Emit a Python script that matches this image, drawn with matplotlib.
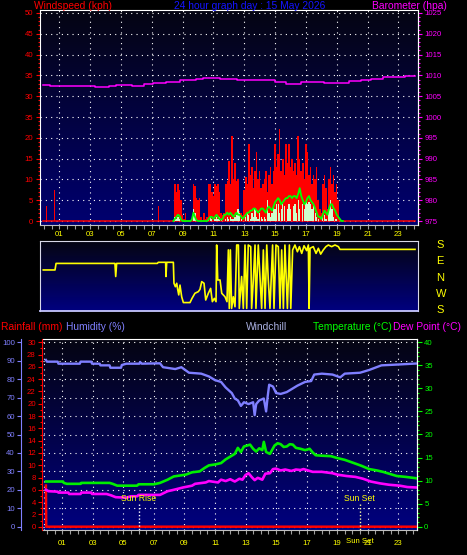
import numpy as np
import matplotlib
matplotlib.use('Agg')
import matplotlib.pyplot as plt
from matplotlib.ticker import MultipleLocator, FixedLocator
from matplotlib.transforms import blended_transform_factory

plt.rcParams['font.family'] = ['Liberation Sans', 'DejaVu Sans']

W, H = 467, 555

# ---------------- data ----------------
hour_ticks = list(range(1, 24, 2))
hour_labels = ['%02d' % h for h in hour_ticks]

# wind, sampled every 6 minutes over the windy part of the day
wind_hours = np.round(np.arange(8.4, 19.45, 0.1), 1)
gust = [0, 9, 7, 9, 7.5, 5, 1.5, 0.5, 2, 0,
        0, 0, 0.5, 9, 8.5, 5.5, 5, 5.5, 1, 0,
        2, 0.5, 1, 9, 9, 7, 6, 9, 8.5, 9,
        7, 2, 1.5, 2, 9, 9.5, 14.5, 9, 20.5, 10,
        14, 9.5, 10, 2.5, 2, 1.5, 7.5, 10.5, 9, 18.5,
        11, 13, 8, 12, 16.6, 10, 12, 8, 9, 10,
        12, 7, 11, 13, 9, 12, 18.5, 13, 16, 22,
        12, 15, 11, 18.5, 14, 18.5, 13, 15, 12, 14,
        11, 20.4, 15, 12, 14, 10, 18.5, 16.6, 11, 13,
        9, 11, 10, 13, 5, 3, 2, 9, 11, 8,
        3, 10, 13, 9, 11, 7, 9, 5, 0.5, 0,
        0]
speed = [0, 1, 0.5, 1, 0.5, 0, 0, 0, 0, 0,
         0, 0, 0, 3, 2, 0.5, 0, 0, 0, 0,
         0, 0, 0, 0.5, 1, 0.5, 0, 0.5, 1, 0.5,
         1, 0.5, 0, 0, 0.5, 1, 0.5, 1, 0.5, 0.5,
         1, 1.5, 3, 2, 0.5, 0, 0, 1, 2, 1.5,
         0.5, 2, 1, 3, 1, 0.5, 2, 1, 0.5, 1,
         0.5, 5, 2, 1, 2, 3.5, 3, 4, 4, 2,
         3, 4, 3.5, 0, 3, 4, 3, 0, 3.5, 4,
         2, 5, 3, 0, 4, 3, 4.5, 4, 4.5, 4,
         3, 4, 2, 1, 0.5, 0, 0, 1, 1.5, 0.5,
         0, 3, 5, 3, 1, 0.5, 0.5, 0, 0, 0,
         0]
average = [0, 0.5, 1, 1.5, 1.2, 0.3, 0, 0, 0, 0,
           0, 0, 0.3, 2, 1, 0.2, 0, 0, 0, 0,
           0, 0, 0, 0.5, 1, 1, 0.5, 1, 1.5, 1,
           0.5, 0.3, 0.5, 1.5, 1.5, 2, 1.5, 2, 1.5, 1,
           1.5, 2, 1.5, 1.5, 1, 0.5, 1, 1.5, 2, 2,
           2.5, 2.5, 3, 3, 2.5, 2, 2.5, 3, 3, 2.5,
           2, 3, 3.5, 3, 2.5, 3.5, 4.5, 5, 5.5, 5,
           4, 4.5, 5, 5.5, 5.5, 6, 6, 5.5, 6, 6,
           5.5, 6.5, 7.9, 6, 5, 4, 4.5, 5.5, 6, 5,
           4.5, 4, 3, 2, 1, 1, 0.5, 1.5, 2.5, 2,
           1.5, 3, 4, 4, 3, 2.5, 1.5, 1, 0.5, 0,
           0]
early_gust_hours = [0.15, 0.2, 0.7, 7.45]
early_gust = [3.6, 1.8, 7.4, 3.6]

# barometer (steps)
baro_hours = [-0.05, 0.4, 3.3, 4.2, 4.7, 5.7, 6.5, 7.1, 7.9, 8.8, 9.9, 10.3,
              11.4, 12.5, 13.3, 15.0, 15.7, 16.7, 18.2, 19.8, 20.6, 21.2, 22.0,
              23.4, 24.1]
baro = [1007.6, 1007.4, 1007.1, 1007.4, 1007.7, 1007.55, 1007.9, 1008.2,
        1008.5, 1008.9, 1009.2, 1009.45, 1009.2, 1009.0, 1008.8, 1008.5,
        1008.0, 1008.3, 1008.2, 1008.6, 1008.9, 1009.2, 1009.5, 1009.75,
        1009.75]

# wind direction (compass degrees)
dir_hours = [-0.04, 0.72, 0.79, 4.61, 4.66, 4.72, 7.36, 7.42, 7.90, 7.92, 7.97,
             8.40, 8.44, 8.53, 8.62, 8.68, 8.75, 8.83, 8.94, 9.05, 9.48, 9.61,
             9.80, 10.02, 10.13, 10.24, 10.39, 10.50, 10.67, 10.82, 10.93, 11.06,
             11.17, 11.21, 11.28, 11.43, 11.54, 11.75, 11.88, 11.97, 12.03, 12.10,
             12.18, 12.29, 12.40, 12.51, 12.62, 12.68, 12.83, 12.94, 13.05, 13.16,
             13.26, 13.42, 13.48, 13.59, 13.70, 13.76, 13.91, 14.13, 14.24, 14.35,
             14.46, 14.56, 14.67, 14.84, 14.93, 15.06, 15.21, 15.32, 15.43, 15.54,
             15.64, 15.80, 15.93, 16.02, 16.14, 16.29, 16.45, 16.58, 16.73, 16.88,
             17.05, 17.16, 17.21, 17.27, 17.48, 17.66, 17.81, 17.96, 18.13, 18.30,
             18.46, 18.67, 18.89, 19.11, 19.21, 24.08]
dir_deg = [37, 37, 73, 73, 1, 73, 73, 79, 79, 1, 79,
           79, 324, 305, 324, 291, 260, 314, 250, 218, 218, 241,
           269, 278, 291, 333, 324, 232, 269, 296, 223, 241,
           223, 174, 342, 342, 269, 250, 223, 147, 186, 147,
           186, 250, 195, 174, 174, 186, 1, 186, 174, 186,
           174, 165, 186, 342, 174, 186, 174, 186, 147, 186,
           174, 342, 186, 174, 186, 174, 165, 186, 147, 186,
           174, 186, 174, 186, 147, 174, 137, 165, 128, 170,
           143, 174, 186, 156, 165, 128, 156, 124, 147, 165,
           174, 165, 174, 165, 150, 150]

# humidity (%)
hum_hours = [-0.07, 0.0, 0.7, 0.75, 2.15, 2.2, 2.9, 2.95, 3.45, 3.5, 4.1, 4.15,
             4.85, 4.9, 5.2, 6.05, 6.1, 6.2, 7.4, 7.6, 8.4, 8.8, 9.3, 10.1, 10.6,
             11.0, 11.4, 11.7, 12.1, 12.3, 12.5, 12.7, 12.9, 13.2, 13.5, 13.6,
             13.7, 13.9, 14.2, 14.35, 14.45, 14.55, 14.8, 15.0, 15.3, 15.7, 16.0,
             16.4, 16.9, 17.3, 17.5, 18.0, 18.7, 19.2, 19.5, 20.5, 21.1, 21.9,
             23.1, 24.2]
humidity = [90.4, 89.5, 89.5, 88.4, 88.4, 89.5, 89.5, 88.4, 88.4, 87.5, 87.5, 86.2,
            86.2, 87.7, 88.4, 88.4, 89.3, 88.4, 88.6, 86.5, 85.5, 86.5, 83.5, 83.0,
            81.5, 79.5, 78.5, 75.5, 72.5, 69.5, 68.5, 65.5, 67.5, 66.5, 67.5, 60.5,
            66.5, 68.5, 69.5, 62.5, 70.5, 77.0, 76.0, 72.5, 72.0, 73.0, 74.5,
            76.5, 78.5, 79.0, 82.5, 83.0, 82.5, 81.0, 83.0, 83.5, 85.0, 87.5,
            88.0, 88.5]

# temperature (C)
temp_hours = [-0.07, 1.05, 1.1, 1.3, 2.2, 2.25, 4.1, 4.3, 4.6, 5.9, 6.0, 7.0, 7.4,
              7.9, 8.3, 9.1, 9.5, 10.0, 10.3, 10.6, 11.0, 11.4, 11.7, 12.0, 12.3,
              12.5, 12.7, 12.9, 13.3, 13.5, 13.7, 13.9, 14.1, 14.2, 14.35, 14.6,
              14.9, 15.1, 15.3, 15.5, 15.7, 15.9, 16.1, 16.3, 16.6, 16.9, 17.2,
              17.4, 17.6, 18.0, 18.6, 19.0, 19.5, 20.1, 20.6, 21.1, 21.6, 22.0,
              22.5, 22.9, 23.5, 24.2]
temperature = [9.8, 9.8, 9.5, 9.3, 9.3, 9.5, 9.5, 9.3, 8.9, 8.9, 9.2, 9.2, 9.5,
               10.2, 10.9, 11.3, 11.8, 12.0, 12.7, 13.3, 13.5, 13.8, 14.6, 15.2,
               15.8, 17.1, 16.2, 17.4, 17.8, 16.9, 16.3, 17.0, 16.6, 18.4, 16.2,
               15.8, 17.6, 18.1, 17.9, 17.3, 17.4, 17.9, 17.8, 17.1, 16.9, 16.6,
               16.9, 16.1, 15.5, 15.4, 15.3, 14.9, 14.5, 13.8, 13.2, 12.5, 12.2,
               11.9, 11.4, 11.0, 10.8, 10.5]

# dew point (C)
dew_hours = [-0.07, 0.1, 0.7, 0.75, 1.4, 1.45, 2.2, 2.25, 2.9, 2.95, 3.9, 4.2, 4.5,
             5.2, 5.5, 5.9, 6.0, 7.4, 7.9, 8.3, 8.9, 9.5, 9.7, 10.4, 10.6, 11.2,
             11.4, 11.7, 12.0, 12.3, 12.6, 12.8, 13.0, 13.2, 13.4, 13.6, 13.8,
             14.1, 14.3, 14.6, 14.8, 15.0, 15.3, 15.6, 16.0, 16.3, 16.6, 16.8,
             17.1, 17.4, 18.0, 18.7, 19.0, 19.6, 20.2, 20.7, 21.2, 21.8, 22.4,
             23.1, 23.6, 24.2]
dew_point = [8.0, 7.7, 7.6, 7.4, 7.4, 7.1, 7.1, 7.4, 7.4, 7.1, 7.1, 6.8, 6.4,
             6.3, 6.6, 6.6, 6.9, 6.9, 7.7, 8.0, 8.5, 8.9, 9.3, 9.6, 9.9, 9.6,
             10.2, 9.9, 10.3, 9.8, 10.4, 10.2, 11.2, 11.6, 10.8, 10.1, 10.6,
             10.2, 11.5, 11.6, 12.5, 12.6, 12.2, 12.4, 12.1, 12.4, 12.3, 12.5,
             12.2, 11.9, 11.9, 11.6, 11.3, 11.0, 10.8, 10.4, 9.8, 9.4, 9.1,
             8.9, 8.6, 8.5]

# rainfall (mm)
rain_hours = [-0.07, -0.05, 24.2]
rain = [6.7, 0, 0]

sun_rise = 6.04
sun_set = 20.52

# ---------------- drawing ----------------
fig = plt.figure(figsize=(W / 100, H / 100), dpi=100, facecolor='black')

DOT = (0, (1, 3.8))
TICKFS = 5.6


def px_axes(x0, y0, x1, y1):
    return fig.add_axes([x0 / W, 1 - y1 / H, (x1 - x0) / W, (y1 - y0) / H])


def gradient(ax, top, bottom):
    g = np.linspace(0, 1, 256)[:, None, None]
    img = np.array(top)[None, None, :] * (1 - g) + np.array(bottom)[None, None, :] * g
    ax.imshow(img, extent=[0, 1, 0, 1], transform=ax.transAxes, aspect='auto',
              zorder=0, interpolation='bilinear')


def hour_axis(ax, pad):
    ax.xaxis.set_major_locator(FixedLocator(hour_ticks))
    ax.set_xticklabels(hour_labels)
    ax.xaxis.set_minor_locator(MultipleLocator(0.5))
    ax.tick_params(axis='x', which='both', color='#a0a0a0', length=3, width=0.8,
                   labelcolor='yellow', labelsize=TICKFS, pad=pad)


# --- wind / barometer panel ---
ax1 = px_axes(40, 10, 418, 225)
gradient(ax1, (0.02, 0.02, 0.07), (0.0, 0.0, 0.44))
ax1.plot([-0.05, 24.1], [0, 0], color='red', lw=1.1, zorder=2)
ax1.bar(early_gust_hours, early_gust, width=0.06, color='red', lw=0, zorder=3,
        antialiased=False)
ax1.bar(wind_hours, gust, width=0.1, color='red', lw=0, zorder=3, antialiased=False)
ax1.bar(wind_hours, speed, width=0.08, color='#ccffcc', lw=0, zorder=4,
        antialiased=False)
ax1.plot(wind_hours, average, color='#00ff00', lw=1.3, zorder=5)
ax1.set_xlim(-0.253, 24.275)
ax1.set_ylim(-0.96, 50.72)
ax1.yaxis.set_minor_locator(MultipleLocator(1))
ax1.set_yticks(range(0, 55, 5))
ax1.set_yticklabels(['0', '5', '10', '15', '20', '35', '30', '35', '40', '45', '50'])
ax1.tick_params(axis='y', which='major', colors='red', labelsize=TICKFS, length=3,
                width=0.8, pad=2)
ax1.tick_params(axis='y', which='minor', colors='red', length=1.5, width=0.8)
hour_axis(ax1, 1)
ax1.grid(True, which='major', color='white', ls=DOT, lw=0.8, zorder=1)
ax1.set_axisbelow(True)
for s in ['top', 'left', 'right']:
    ax1.spines[s].set_color('white')
ax1.spines['bottom'].set_color('#c0c0c0')

ax1b = ax1.twinx()
ax1b.step(baro_hours, baro, where='post', color='#ff00ff', lw=1.1)
ax1b.set_ylim(974.04, 1025.72)
ax1b.set_yticks(range(975, 1030, 5))
ax1b.yaxis.set_minor_locator(MultipleLocator(1))
ax1b.tick_params(axis='y', which='major', colors='#ff00ff', labelsize=TICKFS,
                 length=3, width=0.8, pad=1.5)
ax1b.tick_params(axis='y', which='minor', colors='#ff00ff', length=1.5, width=0.8)
for s in ['top', 'left', 'bottom']:
    ax1b.spines[s].set_visible(False)
ax1b.spines['right'].set_color('white')

# --- wind direction panel ---
ax2 = px_axes(40, 241, 418, 310.7)
gradient(ax2, (0.02, 0.02, 0.07), (0.0, 0.0, 0.5))
dir_pos = [(d - 180) % 360 for d in dir_deg]
ax2.plot(dir_hours, dir_pos, color='yellow', lw=1.2, zorder=3)
ax2.set_xlim(-0.253, 24.275)
ax2.set_ylim(-6.6, 376)
ax2.set_xticks([])
ax2.yaxis.tick_right()
ax2.set_yticks([0, 90, 180, 270, 360])
ax2.set_yticklabels(['S', 'W', 'N', 'E', 'S'])
ax2.tick_params(axis='y', length=0, pad=13, labelcolor='yellow', labelsize=8)
for s in ax2.spines.values():
    s.set_color('#d8d8e8')
ax2.spines['bottom'].set_color('#c8c8ff')
ax2.spines['bottom'].set_linewidth(1.3)

# --- temperature / humidity / rain panel ---
ax3 = px_axes(42.7, 339.3, 417.3, 530)
gradient(ax3, (0.02, 0.02, 0.07), (0.0, 0.0, 0.5))
ax3.plot(hum_hours, humidity, color='#7f7fff', lw=1.7, zorder=3)
ax3.set_xlim(-0.28, 24.25)
ax3.set_ylim(-1.79, 101.63)
ax3.set_yticks(range(0, 101, 10))
ax3.spines['left'].set_position(('axes', -0.0587))
ax3.spines['left'].set_color('#8080ff')
ax3.tick_params(axis='y', colors='#8080ff', labelsize=TICKFS, length=3, width=0.8,
                pad=1.2)
hour_axis(ax3, 4)
ax3.grid(True, which='major', color='white', ls=DOT, lw=0.8, zorder=1)
ax3.axvline(-0.22, color='white', ls=DOT, lw=0.8, zorder=1)
ax3.set_axisbelow(True)
ax3.spines['top'].set_color('white')
ax3.spines['right'].set_color('white')
ax3.spines['bottom'].set_color('#c0c0c0')

ax_r = ax3.twinx()
ax_r.plot(rain_hours, rain, color='red', lw=1.8)
ax_r.set_ylim(-0.537, 30.49)
ax_r.yaxis.set_ticks_position('left')
ax_r.spines['left'].set_position(('axes', -0.0027))
ax_r.spines['left'].set_visible(True)
ax_r.spines['left'].set_color('red')
for s in ['top', 'right', 'bottom']:
    ax_r.spines[s].set_visible(False)
ax_r.set_yticks(range(0, 31, 2))
ax_r.yaxis.set_minor_locator(MultipleLocator(1))
ax_r.tick_params(axis='y', which='major', colors='red', labelsize=TICKFS, length=3,
                 width=0.8, pad=1.2)
ax_r.tick_params(axis='y', which='minor', colors='red', length=1.5, width=0.8)

ax_t = ax3.twinx()
ax_t.plot(temp_hours, temperature, color='#00ee00', lw=1.9)
ax_t.plot(dew_hours, dew_point, color='#ff00ff', lw=1.9)
ax_t.set_ylim(-0.716, 40.65)
ax_t.set_yticks(range(0, 41, 5))
ax_t.yaxis.set_minor_locator(MultipleLocator(1))
ax_t.tick_params(axis='y', which='major', colors='#00ff00', labelsize=TICKFS,
                 length=3.5, width=0.8, pad=1.5)
ax_t.tick_params(axis='y', which='minor', colors='#00ff00', length=1.5, width=0.8)
for s in ['top', 'left', 'bottom']:
    ax_t.spines[s].set_visible(False)
ax_t.spines['right'].set_color('white')

# sunrise / sunset markers
ax_t.plot([sun_rise, sun_rise], [4.9, -0.716], color='white', ls=(0, (1, 1.5)), lw=1)
ax_t.plot([sun_set, sun_set], [4.9, -0.716], color='#ffffa0', ls=(0, (1, 1.5)), lw=1)
ax_t.text(sun_rise - 0.05, 5.6, 'Sun Rise', color='yellow', fontsize=6.2, ha='center',
          va='baseline')
ax_t.text(sun_set - 0.06, 5.6, 'Sun Set', color='yellow', fontsize=6.2, ha='center',
          va='baseline')
bt = blended_transform_factory(ax3.transData, ax3.transAxes)
ax3.text(sun_set - 0.06, -0.043, 'Sun Set', transform=bt, color='yellow',
         fontsize=TICKFS, ha='center', va='top')

# --- headers ---
HFS = 7.35


def header(x, y, s, color, ha='left'):
    fig.text(x / W, 1 - y / H, s, color=color, fontsize=HFS, ha=ha, va='baseline')


header(34, 9, 'Windspeed (kph)', '#ff0000')
header(250, 9, '24 hour graph day : 15 May 2026', '#1414ff', ha='center')
header(372, 9, 'Barometer (hpa)', '#ff00ff')
header(1, 330, 'Rainfall (mm)', '#ff0000')
header(66.5, 330, 'Humidity (%)', '#8080ff')
header(246, 330, 'Windchill', '#aab0e0')
header(313, 330, 'Temperature (\u00b0C)', '#00ff00')
header(393, 330, 'Dew Point (\u00b0C)', '#ff00ff')

fig.savefig('out.png', dpi=100, facecolor='black')
